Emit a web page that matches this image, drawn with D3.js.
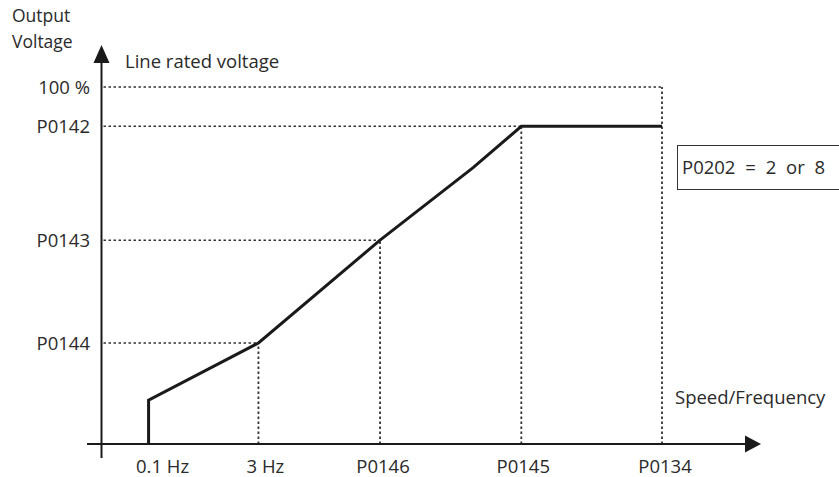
<!DOCTYPE html>
<html>
<head>
<meta charset="utf-8">
<script src="https://cdn.jsdelivr.net/npm/d3@7"></script>
<style>
  body { margin: 0; background: #fff; }
  text { font-family: "Open Sans", "Noto Sans", sans-serif; fill: #2a2a2a; }
</style>
</head>
<body>
<svg id="chart" width="839" height="477"></svg>
<script>
// ---- data (abstract units: x in % of P0134, y in % of line rated voltage)
const xTickLabels = ["0.1 Hz", "3 Hz", "P0146", "P0145", "P0134"];
const xTickValues = [8.4, 28.0, 49.7, 74.9, 100];
const yTickLabels = ["P0144", "P0143", "P0142", "100 %"];
const yTickValues = [28.3, 57.1, 89.0, 100];
const curveX = [8.4, 8.4, 28.0, 49.7, 66.3, 74.9, 100];
const curveY = [0, 12.3, 28.3, 57.1, 77.4, 89.0, 89.0];
// dotted guides: x value and height of each vertical guide
const guideX = [28.0, 49.7, 74.9, 100];
const guideY = [28.3, 57.1, 89.0, 100];

const svg = d3.select("#chart");
const x = d3.scaleLinear().domain([0, 100]).range([101.5, 662]);
const y = d3.scaleLinear().domain([0, 100]).range([444, 87]);

const ink = "#1a1a1a";

// dotted horizontal guides from y-axis to the curve
const hGuides = [
  {y: 100, x2: 100},
  {y: 89.0, x2: 74.9},
  {y: 57.1, x2: 49.7},
  {y: 28.3, x2: 28.0}
];
svg.selectAll(".hg").data(hGuides).enter().append("line")
  .attr("x1", x(0) + 2).attr("x2", d => x(d.x2))
  .attr("y1", d => y(d.y)).attr("y2", d => y(d.y))
  .attr("stroke", "#333").attr("stroke-width", 1.5)
  .attr("stroke-dasharray", "2.5,2.5");

// dotted vertical guides
svg.selectAll(".vg").data(guideX).enter().append("line")
  .attr("x1", d => x(d)).attr("x2", d => x(d))
  .attr("y1", y(0)).attr("y2", (d, i) => y(guideY[i]))
  .attr("stroke", "#333").attr("stroke-width", 1.8)
  .attr("stroke-dasharray", "2.5,2.5");

// axes
svg.append("line").attr("x1", 87).attr("x2", 748).attr("y1", y(0)).attr("y2", y(0))
  .attr("stroke", ink).attr("stroke-width", 2);
svg.append("line").attr("x1", x(0)).attr("x2", x(0)).attr("y1", 458).attr("y2", 60)
  .attr("stroke", ink).attr("stroke-width", 2);
// arrowheads
svg.append("path").attr("d", `M${x(0)},45 L${x(0)-8},63 L${x(0)+8},63 Z`).attr("fill", ink);
svg.append("path").attr("d", `M761,${y(0)} L745,${y(0)-8.5} L745,${y(0)+8.5} Z`).attr("fill", ink);

// curve
const line = d3.line().x(d => x(d[0])).y(d => y(d[1]));
svg.append("path").datum(curveX.map((cx, i) => [cx, curveY[i]]))
  .attr("d", line).attr("fill", "none").attr("stroke", ink)
  .attr("stroke-width", 3).attr("stroke-linejoin", "miter");

const fs = 18.5;
// y tick labels
svg.selectAll(".yl").data(yTickLabels).enter().append("text")
  .attr("x", 90).attr("y", (d, i) => y(yTickValues[i]))
  .attr("dy", "0.36em").attr("text-anchor", "end")
  .attr("font-size", fs).text(d => d);

// x tick labels
const labelDx = [14, 7, 3, 2, 3];
svg.selectAll(".xl").data(xTickLabels).enter().append("text")
  .attr("x", (d, i) => x(xTickValues[i]) + labelDx[i]).attr("y", 473)
  .attr("text-anchor", "middle").attr("font-size", fs).text(d => d);

// titles
svg.append("text").attr("x", 12).attr("y", 22).attr("font-size", 17.5).text("Output");
svg.append("text").attr("x", 12).attr("y", 48).attr("font-size", 17.5).text("Voltage");
svg.append("text").attr("x", 125).attr("y", 68).attr("font-size", fs).text("Line rated voltage");
svg.append("text").attr("x", 675).attr("y", 404).attr("font-size", fs).text("Speed/Frequency");

// parameter box
svg.append("rect").attr("x", 677.5).attr("y", 145.5).attr("width", 170).attr("height", 44)
  .attr("fill", "none").attr("stroke", "#333").attr("stroke-width", 1);
svg.append("text").attr("x", 682).attr("y", 174).attr("font-size", fs)
  .style("word-spacing", "5px").text("P0202 = 2 or 8");
</script>
</body>
</html>
